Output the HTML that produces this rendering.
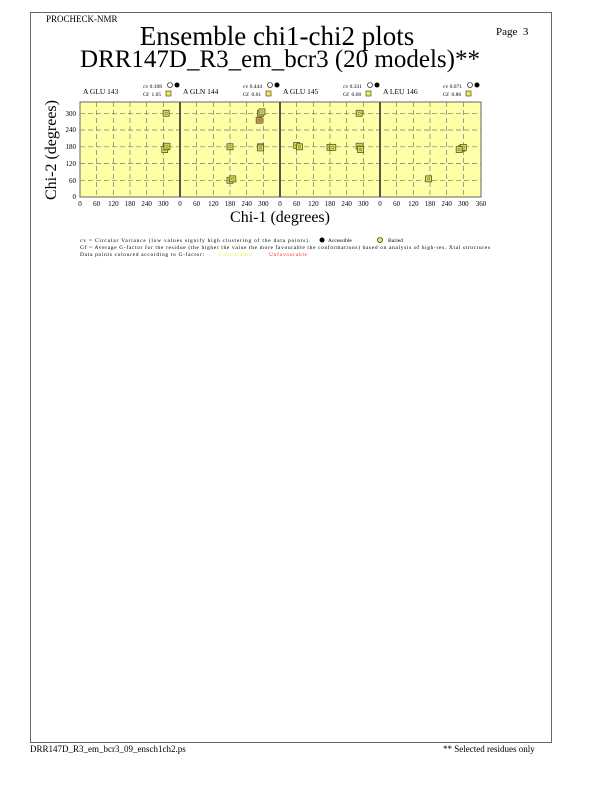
<!DOCTYPE html>
<html><head><style>
body{margin:0;background:#fff;width:612px;height:792px;position:relative;font-family:"Liberation Serif",serif;overflow:hidden}
.t{position:absolute;white-space:nowrap;color:#000}
</style></head><body>
<div style="position:absolute;left:30px;top:12px;width:520px;height:729px;border:1px solid #666"></div>
<div class="t" style="left:46px;top:14px;font-size:9px">PROCHECK-NMR</div>
<div class="t" style="left:496px;top:26px;font-size:11px">Page&nbsp; 3</div>
<div class="t" style="width:612px;text-align:center;top:20px;font-size:27px;line-height:32px;left:-29px">Ensemble chi1-chi2 plots</div>
<div class="t" style="width:612px;text-align:center;top:46px;font-size:25px;line-height:28px;left:-26px">DRR147D_R3_em_bcr3 (20 models)**</div>
<div class="t" style="left:30px;top:744px;font-size:9px">DRR147D_R3_em_bcr3_09_ensch1ch2.ps</div>
<div class="t" style="left:443px;top:744px;font-size:9px">** Selected residues only</div>
<svg width="612" height="792" style="position:absolute;left:0;top:0" font-family="Liberation Serif,serif">
<rect x="80" y="102" width="401" height="95" fill="#ffffa8" stroke="#666" stroke-width="1"/>
<g stroke="#777" stroke-dasharray="5,3" stroke-width="0.7">
<line x1="80" x2="481" y1="113.3" y2="113.3"/><line x1="80" x2="481" y1="146.8" y2="146.8"/><line x1="80" x2="481" y1="180.3" y2="180.3"/><line x1="80" x2="481" y1="163.5" y2="163.5"/><line x1="80" x2="481" y1="130" y2="130"/>
</g>
<g stroke="#777" stroke-dasharray="5,3" stroke-width="0.7" id="vg"></g>
<g id="ticks" font-size="7" text-anchor="middle"></g>
<g stroke="#555" stroke-width="2"><line x1="180" x2="180" y1="102" y2="197"/><line x1="280" x2="280" y1="102" y2="197"/><line x1="380" x2="380" y1="102" y2="197"/></g>
<g font-size="7" text-anchor="end"><text x="76" y="199">0</text><text x="76" y="183">60</text><text x="76" y="166">120</text><text x="76" y="149">180</text><text x="76" y="132">240</text><text x="76" y="116">300</text></g>
<g font-size="7.5"><text x="83" y="94">A GLU 143</text><text x="183" y="94">A GLN 144</text><text x="283" y="94">A GLU 145</text><text x="383" y="94">A LEU 146</text></g>
<g font-size="5.5"><text x="143" y="88">cv 0.108</text><text x="143" y="96">Gf&nbsp; 1.05</text>
<text x="243" y="88">cv 0.444</text><text x="243" y="96">Gf&nbsp; 0.61</text>
<text x="343" y="88">cv 0.331</text><text x="343" y="96">Gf&nbsp; 0.68</text>
<text x="443" y="88">cv 0.071</text><text x="443" y="96">Gf&nbsp; 0.86</text></g>
<g fill="#ee4" stroke="#333" stroke-width="0.6"><rect x="166" y="91" width="5" height="5"/><rect x="266" y="91" width="5" height="5"/><rect x="366" y="91" width="5" height="5"/><rect x="466" y="91" width="5" height="5"/></g>
<g stroke="#000" stroke-width="0.6" fill="#fff"><circle cx="170" cy="85" r="2.5"/><circle cx="270" cy="85" r="2.5"/><circle cx="370" cy="85" r="2.5"/><circle cx="470" cy="85" r="2.5"/></g>
<g fill="#000"><circle cx="177" cy="85" r="2.5"/><circle cx="277" cy="85" r="2.5"/><circle cx="377" cy="85" r="2.5"/><circle cx="477" cy="85" r="2.5"/></g>
<g id="pts"></g>
<text x="280" y="222" font-size="16" text-anchor="middle">Chi-1 (degrees)</text>
<text transform="translate(56,150) rotate(-90)" font-size="16" text-anchor="middle">Chi-2 (degrees)</text>
<g font-size="5.5"><text x="80" y="242" textLength="230">cv = Circular Variance (low values signify high clustering of the data points).</text>
<text x="328" y="242">Accessible</text><text x="388" y="242">Buried</text>
<text x="80" y="249" textLength="410">Gf = Average G-factor for the residue (the higher the value the more favourable the conformations) based on analysis of high-res. Xtal structures</text>
<text x="80" y="256" textLength="124">Data points coloured according to G-factor:</text>
<text x="219" y="256" fill="#ee4" textLength="33">Favourable</text><text x="269" y="256" fill="#e33" textLength="38">Unfavourable</text></g>
<circle cx="322" cy="240" r="2.5" fill="#000"/><circle cx="380" cy="240" r="2.5" fill="#ee4" stroke="#000" stroke-width="0.6"/>
</svg>
<script>
var ns="http://www.w3.org/2000/svg";
function el(p,n,a,t){var e=document.createElementNS(ns,n);for(var k in a)e.setAttribute(k,a[k]);if(t)e.textContent=t;document.getElementById(p).appendChild(e);}
var lab=["0","60","120","180","240","300"];
for(var p=0;p<4;p++){var x0=80+p*100;
for(var i=0;i<6;i++){var x=x0+i*100/6;if(i>0)el("vg","line",{x1:x,x2:x,y1:102,y2:197});el("ticks","text",{x:x,y:206},lab[i]);}
}
el("ticks","text",{x:481,y:206},"360");
var P=[[0,310,300],[0,310,180],[0,305,170],[0,313,182],
[1,290,300],[1,295,305],[1,285,275,1],[1,180,180],[1,290,180],[1,290,176],[1,180,60],[1,190,65],
[2,60,185],[2,70,180],[2,180,178],[2,190,178],[2,285,182],[2,290,170],[2,285,300],
[3,175,65],[3,295,175],[3,300,178],[3,285,170]];
P.forEach(function(q){var x=80+q[0]*100+q[1]*100/360,y=197-q[2]*0.279;
el("pts","rect",{x:x-3,y:y-3,width:6,height:6,fill:q[3]?"#d9a23a":"#e6e040",stroke:"#554","stroke-width":0.8});
el("pts","circle",{cx:x,cy:y,r:1.3,fill:"none",stroke:"#554","stroke-width":0.5});});
</script>
</body></html>
